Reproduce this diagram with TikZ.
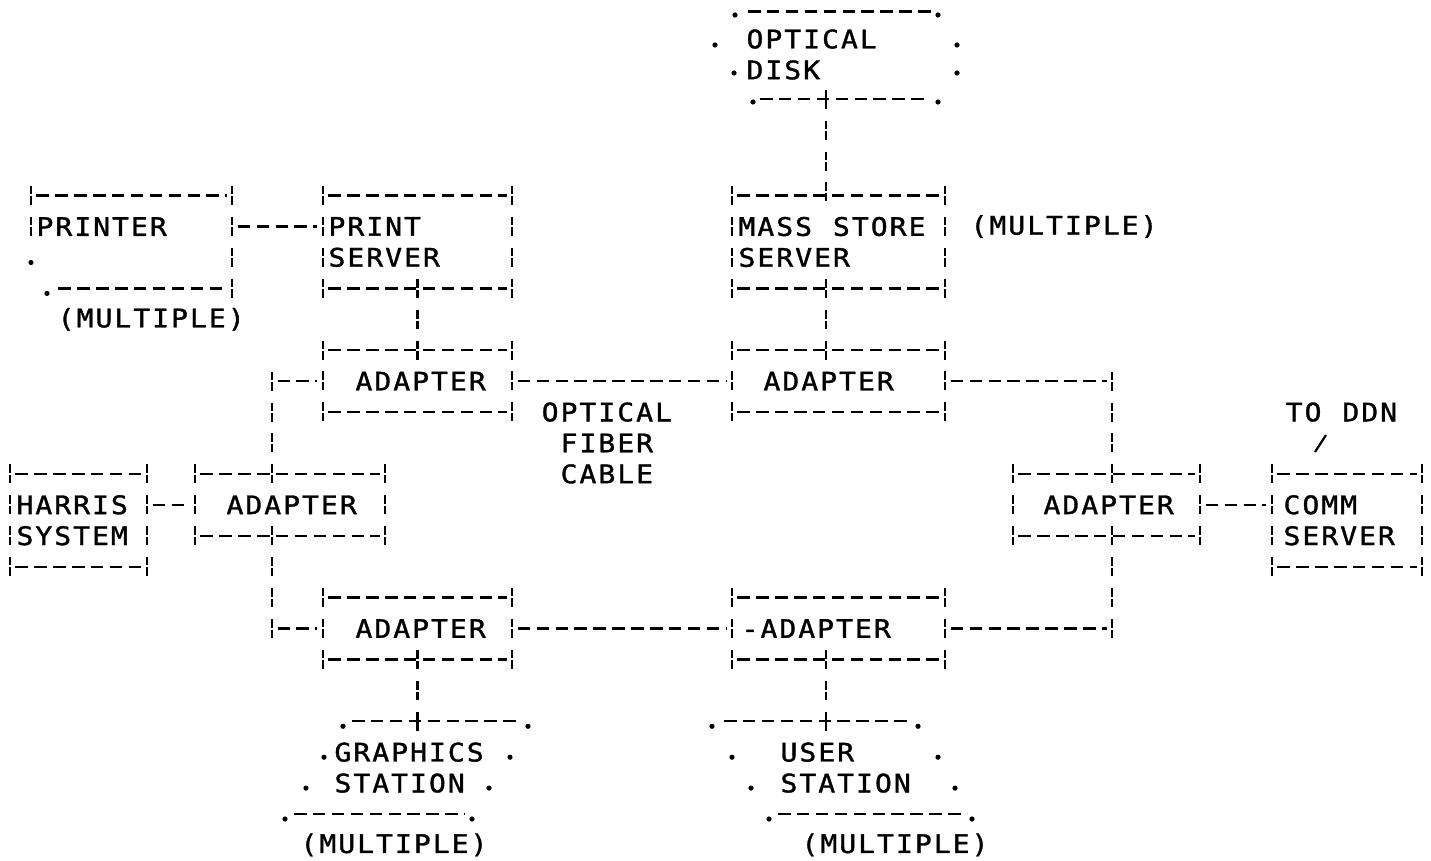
\documentclass[tikz,border=0pt]{standalone}
\usepackage{fontspec}
\newfontfamily\ascii[FakeBold=1.3,FakeStretch=1.1]{DejaVu Sans Mono}
\usetikzlibrary{calc}

% fixed-pitch lettering: every character sits in a cell of equal width
\makeatletter
\newcommand\spc[1]{\spc@a#1\spc@end}
\def\spc@end{\spc@end}
\def\spc@a#1{\ifx#1\spc@end\else\makebox[18.9pt][c]{#1}\expandafter\spc@a\fi}
\makeatother

% draws a box outline of broken bars and dashes around a node
\newcommand\drawframe[1]{%
  \draw[hc] (#1.north west) -- (#1.north east);
  \draw[hc] (#1.south west) -- (#1.south east);
  \draw[vc] (#1.north west) -- (#1.south west);
  \draw[vc] (#1.north east) -- (#1.south east);}

\begin{document}
\begin{tikzpicture}[x=1pt,y=-1pt,
  hl/.style={line width=2.4pt,dash pattern=on 12.5pt off 6.4pt},
  vl/.style={line width=2.5pt,dash pattern=on 8.5pt off 2pt on 8.5pt off 11.92pt},
  hc/.style={hl,shorten <=5.5pt,shorten >=5.5pt},
  vc/.style={vl,shorten <=-9.5pt,shorten >=-9.5pt},
  slash/.style={line width=2.2pt},
  txt/.style={font=\ascii\fontsize{25.5}{30.92}\selectfont,inner sep=0pt},
  bx/.style n args={4}{txt,minimum width=#1pt,minimum height=#2pt,
    inner xsep=#3pt,inner ysep=0pt,text width=#4pt,align=left}]

\fill[white] (0,0) rectangle (1431,861);
\useasboundingbox (0,0) rectangle (1431,861);

% ---- boxes ----
\node[bx={201}{92.76}{4.5}{192}]   (pr) at (131.5,242.0)  {\spc{PRINTER}\\\mbox{}};
\node[bx={189}{92.76}{4.5}{180}]   (ps) at (417.5,242.0)  {\spc{PRINT}\\\spc{SERVER}};
\node[bx={213}{92.76}{5.5}{202}]   (ms) at (838.5,242.0)  {\spc{MASS~STORE}\\\spc{SERVER}};
\node[bx={189}{61.84}{31.5}{126}]  (a1) at (417.5,381.14) {\spc{ADAPTER}};
\node[bx={213}{61.84}{30.5}{152}]  (a2) at (838.5,381.14) {\spc{ADAPTER}};
\node[bx={137}{92.76}{5.5}{126}]   (hs) at (78.5,520.28)  {\spc{HARRIS}\\\spc{SYSTEM}};
\node[bx={190}{61.84}{30.5}{129}]  (ah) at (290,504.82)   {\spc{ADAPTER}};
\node[bx={187}{61.84}{29.5}{128}]  (ar) at (1106.5,504.82) {\spc{ADAPTER}};
\node[bx={150}{92.76}{10.5}{129}]  (cs) at (1347,520.28)  {\spc{COMM}\\\spc{SERVER}};
\node[bx={189}{61.84}{31.5}{126}]  (a3) at (417.5,628.5)  {\spc{ADAPTER}};
\node[bx={213}{61.84}{8.6}{195.8}] (a4) at (838.5,628.5)  {\spc{-ADAPTER}};
\node[bx={203}{89}{10.5}{182}]     (od) at (836.5,54.5)   {\spc{OPTICAL}\\\spc{DISK}};
\node[bx={243}{92.76}{48.5}{146}]  (gs) at (406.5,767.64) {\spc{GRAPHICS}\\\spc{STATION}};
\node[bx={260}{92.76}{67.5}{125}]  (us) at (842,767.64)   {\spc{USER}\\\spc{STATION}};

% ---- labels ----
\node[txt,anchor=west] (mp1) at (56.5,319.3)   {\spc{(MULTIPLE)}};
\node[txt,anchor=west] (mp2) at (969.3,226.54) {\spc{(MULTIPLE)}};
\node[txt,anchor=west] (mp3) at (299.3,844.94) {\spc{(MULTIPLE)}};
\node[txt,anchor=west] (mp4) at (800.3,844.94) {\spc{(MULTIPLE)}};
\node[txt,anchor=west,align=left] (fib) at (540.5,442.98)
  {\spc{OPTICAL}\\\spc{~FIBER}\\\spc{~CABLE}};
\node[txt,anchor=west] (ddn) at (1284.5,412.06) {\spc{TO~DDN}};

% ---- outlines ----
\drawframe{ps}\drawframe{ms}\drawframe{a1}\drawframe{a2}
\drawframe{hs}\drawframe{ah}\drawframe{ar}\drawframe{cs}
\drawframe{a3}\drawframe{a4}

% printer: open lower left corner
\draw[hc] (pr.north west) -- (pr.north east);
\draw[vc] (pr.north east) -- (pr.south east);
\draw[vc] (pr.north west) -- ([yshift=15.46pt]pr.west);
\draw[hc] ([xshift=22pt]pr.south west) -- (pr.south east);
\fill (31,262.5) circle[radius=2.6pt] (47,293.4) circle[radius=2.6pt];

% optical disk
\draw[hl] (748,11.5) -- (931,11.5);
\draw[hl] (760,99) -- (925,99);
\foreach \p in {(735,15),(938,15),(715,45),(957,45),(734,73),(957,73),(753,102),(938,102)}
  \fill \p circle[radius=2.6pt];

% graphics station
\draw[hl] (352,721.26) -- (518,721.26);
\draw[hl] (294,814.02) -- (465,814.02);
\foreach \p in {(343,726.3),(528,726.3),(324,757.2),(510,757.2),(306,788.1),(489,788.1),(285,819),(472,819)}
  \fill \p circle[radius=2.6pt];

% user station
\draw[hl] (724,721.26) -- (912,721.26);
\draw[hl] (778,814.02) -- (967,814.02);
\foreach \p in {(712,726.3),(918,726.3),(732,757.2),(938,757.2),(751,788.1),(955,788.1),(769,819),(972,819)}
  \fill \p circle[radius=2.6pt];

% ---- connectors ----
\coordinate (colB) at (826,0);
\coordinate (colL) at (272,0);
\coordinate (colR) at (1112,0);
\coordinate (k1) at (colL |- a1.west);
\coordinate (k2) at (colR |- a2.east);
\coordinate (k3) at (colR |- a4.east);
\coordinate (k4) at (colL |- a3.west);
\coordinate (sl1) at (1326,435);
\coordinate (sl2) at (1315,452);

\draw[hc] ([yshift=15.46pt]pr.east) -- ([yshift=15.46pt]ps.west);
\draw[vc] (od.south -| colB) -- (ms.north -| colB);
\draw[vc] (ms.south -| colB) -- (a2.north -| colB);
\draw[vc] (ps.south) -- (a1.north);
\draw[hc] (a1.east) -- (a2.west);
\draw[hc] (k1) -- (a1.west);
\draw[vc] (k1) -- (ah.north -| colL);
\draw[hc] (a2.east) -- (k2);
\draw[vc] (k2) -- (ar.north -| colR);
\draw[vc] (ar.south -| colR) -- (k3);
\draw[hc] (a4.east) -- (k3);
\draw[hc] (a3.east) -- (a4.west);
\draw[vc] (ah.south -| colL) -- (k4);
\draw[hc] (k4) -- (a3.west);
\draw[hc] (hs.east |- ah.west) -- (ah.west);
\draw[hc] (ar.east) -- (ar.east -| cs.west);
\draw[vc] (a3.south) -- (a3.south |- gs.north);
\draw[vc] (a4.south -| colB) -- (us.north -| colB);
\draw[slash] (sl1) -- (sl2);
\end{tikzpicture}
\end{document}
